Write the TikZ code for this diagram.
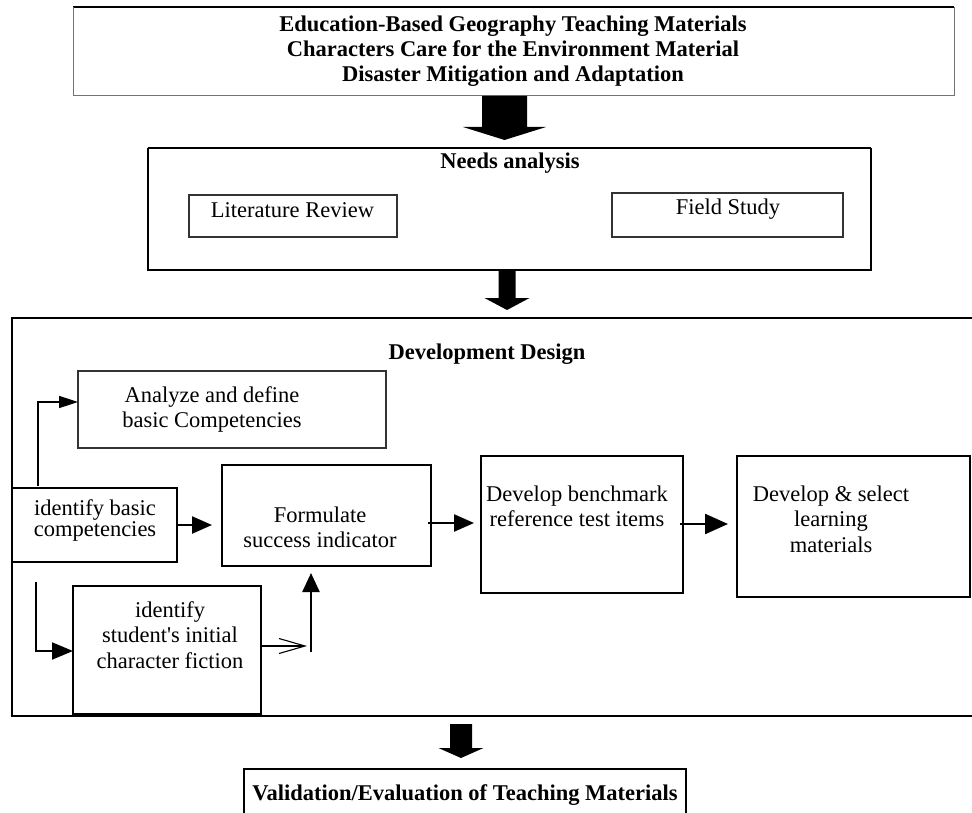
\documentclass[tikz,border=0pt]{standalone}
\usepackage{fontspec}
\setmainfont{Liberation Serif}[Ligatures=TeXOff]
\usetikzlibrary{arrows.meta,calc}
\begin{document}
\lineskiplimit=-20pt
\begin{tikzpicture}[x=1pt,y=-1pt,
  frame/.style={inner sep=0pt, outer sep=0pt, anchor=north west, draw=black, line width=1.5pt},
  thinframe/.style={frame, draw=black!80, line width=1.2pt},
  hidden/.style={inner sep=0pt, outer sep=0pt, anchor=north west},
  txt/.style={inner sep=0pt, align=center, font=\fontsize{22.5}{25.5}\selectfont, anchor=north},
  txtone/.style={inner sep=0pt, font=\fontsize{22.5}{25.5}\selectfont, anchor=base},
  tighttxt/.style={inner sep=0pt, align=center, anchor=south, font=\fontsize{22.5}{21}\selectfont},
  boldtxt/.style={txt, font=\fontsize{22.5}{25}\selectfont\bfseries},
  boldone/.style={txtone, font=\fontsize{22.5}{25}\selectfont\bfseries},
  conn/.style={line width=1.6pt, -{Triangle[length=19pt,width=12pt]}},
  thick conn/.style={line width=2.4pt, -{Triangle[length=20pt,width=17pt]}},
  open conn/.style={line width=1.1pt, -{Straight Barb[length=26pt,width=15pt,line width=1.1pt]}},
  blockarrow/.style={fill=black}
]
\useasboundingbox (0,0) rectangle (972,813);

% ---------- top box ----------
\node[hidden, minimum width=881pt, minimum height=89pt] (top) at (73,7) {};
\draw[line width=1.5pt] (top.north west) -- (top.north east);
\draw[black!55, line width=1pt] (top.north west) -- (top.south west) -- (top.south east) -- (top.north east);
\node[boldtxt] (topT) at (513,13.5) {\strut Education-Based Geography Teaching Materials\\
  \strut Characters Care for the Environment Material\\
  \strut Disaster Mitigation and Adaptation};

% ---------- needs analysis ----------
\node[hidden, minimum width=723pt, minimum height=122pt] (needs) at (148,148) {};
\draw[line width=2.4pt] (needs.north west) -- (needs.north east);
\draw[line width=1.3pt] (needs.north east) -- (needs.south east) -- (needs.south west) -- (needs.north west);
\node[boldone] (needsT) at (510,169) {Needs analysis};
\node[thinframe, minimum width=208pt, minimum height=42pt] (lit) at (189,195) {};
\node[txtone] (litT) at (292.5,218) {Literature Review};
\node[thinframe, minimum width=231pt, minimum height=44pt] (field) at (612,193) {};
\node[txtone] (fieldT) at (728,215) {Field Study};

% ---------- development design ----------
\node[hidden, minimum width=960pt, minimum height=398pt] (dev) at (12,318) {};
\draw[line width=2.4pt] (dev.north east) -- (dev.north west) -- (dev.south west) -- (dev.south east);
\node[boldone] (devT) at (487,359) {Development Design};

\node[thinframe, minimum width=308pt, minimum height=77pt] (ana) at (78,371) {};
\node[txt] (anaT) at (212,384.15) {\strut Analyze and define\\\strut basic Competencies};

\node[frame, minimum width=165pt, minimum height=74pt] (idb) at (12,488) {};
\node[tighttxt] (idbT) at (95,543.3) {identify basic\\competencies\strut};

\node[frame, line width=2pt, minimum width=209pt, minimum height=101pt] (form) at (222,465) {};
\node[txt] (formT) at (320,504.15) {\strut Formulate\\\strut success indicator};

\node[frame, line width=2pt, minimum width=202pt, minimum height=137pt] (bench) at (481,456) {};
\node[txt] (benchT) at (577,483.15) {\strut Develop benchmark\\\strut reference test items};

\node[frame, line width=2pt, minimum width=233pt, minimum height=141pt] (sel) at (737,456) {};
\node[txt] (selT) at (831,483.15) {\strut Develop \& select\\\strut learning\\\strut materials};

\node[frame, line width=2pt, minimum width=188pt, minimum height=128pt] (stu) at (73,586) {};
\node[txt] (stuT) at (170,599.15) {\strut identify\\\strut student's initial\\\strut character fiction};

% ---------- validation ----------
\node[hidden, minimum width=442pt, minimum height=60pt] (val) at (244,769) {};
\draw[line width=1.3pt] (val.south west) -- (val.north west) -- (val.north east) -- (val.south east);
\node[boldone] (valT) at (465,800) {Validation/Evaluation of Teaching Materials};

% ---------- block arrows ----------
\coordinate (a1) at ($(top.south)+(-9,0)$);
\fill[blockarrow] (a1) ++(-22.5,0) -- ++(45,0) -- ++(0,31) -- ++(19,0) -- ++(-41.5,13)
  -- ++(-41.5,-13) -- ++(19,0) -- cycle;
\coordinate (a2) at ($(needs.south)+(-2.5,0)$);
\fill[blockarrow] (a2) ++(-8.5,0) -- ++(17,0) -- ++(0,28) -- ++(14,0) -- ++(-22.5,12)
  -- ++(-22.5,-12) -- ++(14,0) -- cycle;
\coordinate (a3) at ($(dev.south west)+(449,8)$);
\fill[blockarrow] (a3) ++(-11,0) -- ++(22,0) -- ++(0,24) -- ++(11.5,0) -- ++(-22.5,10)
  -- ++(-22.5,-10) -- ++(11.5,0) -- cycle;

% ---------- connectors ----------
\draw[conn] ($(idb.north west)+(26,-2)$) |- ($(ana.north west)+(0,31)$);
\draw[thick conn] (idb.east) -- ($(form.west |- idb.east)+(-10,0)$);
\draw[line width=2pt, -{Triangle[length=21pt,width=17pt]}]
  ($(idb.south west)+(24,20)$) |- ($(stu.north west)+(0,65)$);
\draw[open conn] ($(stu.north east)+(0,60)$) -- ($(form.south west)+(85,80)$);
\draw[line width=2.4pt, -{Triangle[length=19pt,width=17pt]}]
  ($(form.south west)+(89,86)$) -- ($(form.south west)+(89,7)$);
\draw[thick conn] ($(form.north east)+(-3,58)$) -- ($(bench.north west)+(-7,67)$);
\draw[line width=2.4pt, -{Triangle[length=23pt,width=20pt]}]
  ($(bench.north east)+(-3,68)$) -- ($(sel.north west)+(-9,68)$);
\end{tikzpicture}
\end{document}
